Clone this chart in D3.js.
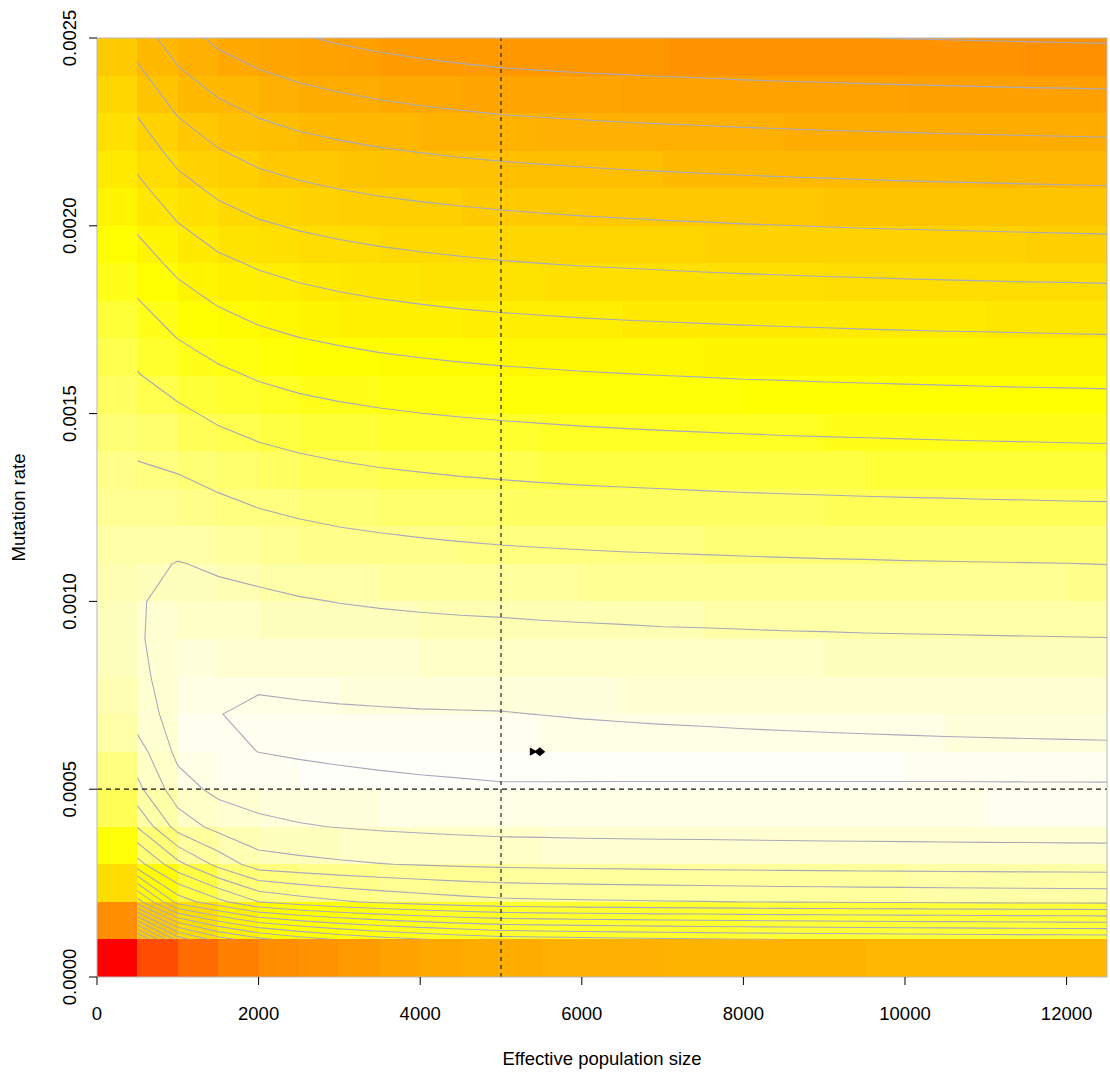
<!DOCTYPE html>
<html>
<head>
<meta charset="utf-8">
<script src="https://cdn.jsdelivr.net/npm/d3@7"></script>
<style>
  body { margin: 0; background: #fff; }
  text { font-family: "Liberation Sans", Arial, Helvetica, sans-serif; fill: #000; }
</style>
</head>
<body>
<svg id="chart" width="1110" height="1074"></svg>
<script>
// grid: upper edge of every cell (effective population size / mutation rate)
const popSizes = [500, 1000, 1500, 2000, 2500, 3000, 3500, 4000, 4500, 5000, 5500, 6000, 6500,
  7000, 7500, 8000, 8500, 9000, 9500, 10000, 10500, 11000, 11500, 12000, 12500];
const mutRates = [0.0001, 0.0002, 0.0003, 0.0004, 0.0005, 0.0006, 0.0007, 0.0008, 0.0009, 0.0010,
  0.0011, 0.0012, 0.0013, 0.0014, 0.0015, 0.0016, 0.0017, 0.0018, 0.0019, 0.0020,
  0.0021, 0.0022, 0.0023, 0.0024, 0.0025];

// misfit surface, one row per mutation rate (bottom row first), one value per population size
const surface = [
  [22.5, 17.6, 15.5, 14.3, 13.5, 12.9, 12.44, 12.07, 11.76, 11.5, 11.4, 11.31, 11.23, 11.16, 11.1, 11.04, 10.99, 10.95, 10.9, 10.86, 10.83, 10.79, 10.76, 10.73, 10.7],
  [13.5, 9.6, 8.3, 7.0, 6.5, 6.13, 5.84, 5.61, 5.41, 5.25, 5.19, 5.14, 5.1, 5.06, 5.03, 4.99, 4.96, 4.94, 4.91, 4.89, 4.87, 4.85, 4.83, 4.82, 4.8],
  [8.4, 6.3, 4.7, 3.48, 3.29, 3.14, 3.03, 2.94, 2.86, 2.8, 2.76, 2.73, 2.71, 2.68, 2.66, 2.64, 2.62, 2.61, 2.59, 2.58, 2.56, 2.55, 2.54, 2.53, 2.52],
  [5.95, 3.58, 2.68, 2.22, 2.07, 1.97, 1.88, 1.81, 1.76, 1.71, 1.7, 1.68, 1.67, 1.66, 1.66, 1.65, 1.64, 1.63, 1.63, 1.62, 1.62, 1.61, 1.61, 1.6, 1.6],
  [4.26, 2.42, 1.75, 1.6, 1.46, 1.35, 1.27, 1.2, 1.15, 1.1, 1.092, 1.086, 1.08, 1.075, 1.07, 1.065, 1.06, 1.056, 1.052, 1.048, 1.044, 1.04, 1.036, 1.033, 1.03],
  [3.44, 1.75, 1.2, 0.99, 0.88, 0.8, 0.73, 0.68, 0.64, 0.6, 0.63, 0.66, 0.69, 0.71, 0.73, 0.75, 0.77, 0.785, 0.8, 0.815, 0.83, 0.84, 0.85, 0.86, 0.87],
  [2.48, 1.6, 1.02, 0.85, 0.88, 0.91, 0.93, 0.95, 0.96, 0.97, 1.01, 1.05, 1.08, 1.11, 1.13, 1.16, 1.18, 1.2, 1.22, 1.235, 1.25, 1.265, 1.28, 1.29, 1.3],
  [2.25, 1.5, 1.2, 1.14, 1.2, 1.24, 1.28, 1.31, 1.33, 1.35, 1.39, 1.42, 1.45, 1.48, 1.5, 1.52, 1.54, 1.56, 1.57, 1.59, 1.6, 1.62, 1.63, 1.64, 1.65],
  [2.11, 1.52, 1.45, 1.49, 1.56, 1.61, 1.65, 1.68, 1.71, 1.73, 1.76, 1.79, 1.81, 1.84, 1.85, 1.87, 1.89, 1.9, 1.92, 1.93, 1.94, 1.95, 1.96, 1.97, 1.98],
  [2.12, 1.6, 1.8, 1.84, 1.94, 2.02, 2.08, 2.13, 2.17, 2.2, 2.24, 2.27, 2.3, 2.33, 2.35, 2.37, 2.39, 2.41, 2.42, 2.44, 2.45, 2.47, 2.48, 2.49, 2.5],
  [2.18, 1.97, 2.1, 2.25, 2.39, 2.49, 2.57, 2.63, 2.68, 2.73, 2.76, 2.79, 2.82, 2.84, 2.86, 2.88, 2.9, 2.92, 2.93, 2.95, 2.96, 2.97, 2.98, 2.99, 3.01],
  [2.5, 2.39, 2.57, 2.74, 2.89, 3.01, 3.09, 3.16, 3.22, 3.27, 3.31, 3.35, 3.38, 3.41, 3.43, 3.46, 3.48, 3.5, 3.52, 3.53, 3.55, 3.56, 3.58, 3.59, 3.6],
  [2.8, 2.81, 3.05, 3.28, 3.44, 3.56, 3.66, 3.73, 3.8, 3.85, 3.9, 3.94, 3.97, 4.0, 4.03, 4.06, 4.08, 4.1, 4.12, 4.14, 4.15, 4.17, 4.18, 4.2, 4.21],
  [3.07, 3.29, 3.61, 3.85, 4.03, 4.16, 4.26, 4.34, 4.41, 4.47, 4.52, 4.56, 4.6, 4.63, 4.66, 4.69, 4.72, 4.74, 4.76, 4.78, 4.8, 4.82, 4.83, 4.85, 4.86],
  [3.5, 3.82, 4.18, 4.46, 4.65, 4.79, 4.9, 4.99, 5.06, 5.12, 5.17, 5.22, 5.26, 5.3, 5.33, 5.36, 5.39, 5.41, 5.43, 5.45, 5.47, 5.49, 5.51, 5.52, 5.54],
  [3.94, 4.4, 4.79, 5.09, 5.3, 5.45, 5.57, 5.66, 5.74, 5.81, 5.86, 5.91, 5.95, 5.99, 6.02, 6.06, 6.08, 6.11, 6.13, 6.15, 6.17, 6.19, 6.21, 6.22, 6.24],
  [4.44, 5.01, 5.44, 5.76, 5.98, 6.13, 6.26, 6.36, 6.44, 6.51, 6.56, 6.61, 6.65, 6.68, 6.71, 6.74, 6.77, 6.79, 6.82, 6.84, 6.86, 6.87, 6.89, 6.91, 6.92],
  [4.96, 5.62, 6.1, 6.44, 6.66, 6.83, 6.96, 7.06, 7.15, 7.22, 7.27, 7.32, 7.36, 7.4, 7.43, 7.47, 7.49, 7.52, 7.54, 7.56, 7.58, 7.6, 7.62, 7.63, 7.65],
  [5.54, 6.26, 6.79, 7.12, 7.36, 7.53, 7.66, 7.77, 7.86, 7.94, 8.0, 8.05, 8.09, 8.13, 8.17, 8.2, 8.23, 8.26, 8.28, 8.31, 8.33, 8.35, 8.37, 8.38, 8.4],
  [6.14, 6.94, 7.5, 7.87, 8.1, 8.27, 8.41, 8.51, 8.6, 8.68, 8.74, 8.8, 8.84, 8.89, 8.92, 8.96, 8.99, 9.02, 9.05, 9.07, 9.09, 9.11, 9.13, 9.15, 9.17],
  [6.76, 7.65, 8.23, 8.6, 8.84, 9.02, 9.16, 9.27, 9.36, 9.44, 9.5, 9.56, 9.61, 9.65, 9.69, 9.73, 9.76, 9.79, 9.82, 9.85, 9.87, 9.89, 9.91, 9.93, 9.95],
  [7.41, 8.36, 8.95, 9.35, 9.6, 9.78, 9.93, 10.04, 10.14, 10.22, 10.28, 10.34, 10.39, 10.43, 10.47, 10.51, 10.54, 10.57, 10.59, 10.62, 10.64, 10.66, 10.68, 10.7, 10.72],
  [8.07, 9.07, 9.69, 10.1, 10.37, 10.56, 10.72, 10.84, 10.94, 11.03, 11.09, 11.14, 11.19, 11.23, 11.26, 11.3, 11.33, 11.36, 11.38, 11.4, 11.43, 11.45, 11.47, 11.48, 11.5],
  [8.75, 9.81, 10.46, 10.87, 11.15, 11.35, 11.51, 11.63, 11.74, 11.83, 11.89, 11.94, 11.98, 12.02, 12.05, 12.09, 12.12, 12.14, 12.17, 12.19, 12.21, 12.23, 12.25, 12.26, 12.28],
  [9.47, 10.55, 11.23, 11.64, 11.92, 12.13, 12.3, 12.43, 12.54, 12.63, 12.69, 12.75, 12.79, 12.84, 12.87, 12.91, 12.94, 12.97, 12.99, 13.02, 13.04, 13.06, 13.08, 13.1, 13.12]
];

const contourLevels = [1, 2, 3, 4, 5, 6, 7, 8, 9, 10, 11, 12, 13, 14, 15, 16, 17, 18, 19, 20, 21, 22];
const xTicks = [0, 2000, 4000, 6000, 8000, 10000, 12000];
const yTicks = [0, 0.0005, 0.0010, 0.0015, 0.0020, 0.0025];
const refPopSize = 5000;
const refMutRate = 0.0005;
const estimate = [5480, 0.0006];

const svg = d3.select('#chart');
const plot = {left: 97, right: 1107, top: 38, bottom: 977};

const x = d3.scaleLinear().domain([0, d3.max(popSizes)]).range([plot.left, plot.right]);
const y = d3.scaleLinear().domain([0, d3.max(mutRates)]).range([plot.bottom, plot.top]);

// R style heat.colors(n)
function hsv(h, s, v) {
  var i = Math.floor(h * 6), f = h * 6 - i;
  var p = v * (1 - s), q = v * (1 - f * s), t = v * (1 - (1 - f) * s);
  var r, g, b;
  switch (i % 6) {
    case 0: r = v; g = t; b = p; break;
    case 1: r = q; g = v; b = p; break;
    case 2: r = p; g = v; b = t; break;
    case 3: r = p; g = q; b = v; break;
    case 4: r = t; g = p; b = v; break;
    default: r = v; g = p; b = q;
  }
  return d3.rgb(r * 255, g * 255, b * 255).formatHex();
}
function heatColors(n) {
  var j = Math.floor(n / 4), i = n - j, out = [];
  for (var k = 0; k < i; k++) out.push(hsv(k / (i - 1) / 6, 1, 1));
  var s0 = 1 - 1 / (2 * j), s1 = 1 / (2 * j);
  for (var k = 0; k < j; k++) out.push(hsv(1 / 6, s0 + (s1 - s0) * k / (j - 1), 1));
  return out;
}
const palette = heatColors(100);
const allValues = surface.flat();
const zMin = d3.min(allValues), zMax = d3.max(allValues);
function cellColor(z) {
  var idx = Math.floor((zMax - z) / (zMax - zMin) * palette.length);
  return palette[Math.max(0, Math.min(palette.length - 1, idx))];
}

// image cells
const cells = [];
surface.forEach(function(row, i) {
  row.forEach(function(z, j) {
    cells.push({
      x0: j === 0 ? 0 : popSizes[j - 1], x1: popSizes[j],
      y0: i === 0 ? 0 : mutRates[i - 1], y1: mutRates[i], z: z
    });
  });
});
svg.append('g')
  .attr('shape-rendering', 'crispEdges')
  .selectAll('rect')
  .data(cells)
  .enter().append('rect')
  .attr('x', d => x(d.x0))
  .attr('y', d => y(d.y1))
  .attr('width', d => x(d.x1) - x(d.x0))
  .attr('height', d => y(d.y0) - y(d.y1))
  .attr('fill', d => cellColor(d.z));

// contour lines, computed on the grid points
const nx = popSizes.length, ny = mutRates.length;
const contours = d3.contours().size([nx, ny]).thresholds(contourLevels)(allValues);
const gx = d3.scaleLinear().domain([0.5, nx - 0.5]).range([popSizes[0], popSizes[nx - 1]]);
const gy = d3.scaleLinear().domain([0.5, ny - 0.5]).range([mutRates[0], mutRates[ny - 1]]);
const toPlot = d3.geoTransform({
  point: function(px, py) { this.stream.point(x(gx(px)), y(gy(py))); }
});
const path = d3.geoPath(toPlot);

svg.append('clipPath').attr('id', 'gridclip')
  .append('rect')
  .attr('x', x(popSizes[0]))
  .attr('y', y(mutRates[ny - 1]))
  .attr('width', x(popSizes[nx - 1]) - x(popSizes[0]))
  .attr('height', y(mutRates[0]) - y(mutRates[ny - 1]));

svg.append('g')
  .attr('clip-path', 'url(#gridclip)')
  .selectAll('path')
  .data(contours)
  .enter().append('path')
  .attr('d', path)
  .attr('fill', 'none')
  .attr('stroke', '#a9a9bb')
  .attr('stroke-width', 1.1);

// reference lines
svg.append('line')
  .attr('x1', x(refPopSize)).attr('x2', x(refPopSize))
  .attr('y1', y(0)).attr('y2', y(d3.max(mutRates)))
  .attr('stroke', '#222').attr('stroke-width', 1.2).attr('stroke-dasharray', '4,4');
svg.append('line')
  .attr('x1', x(0)).attr('x2', x(d3.max(popSizes)))
  .attr('y1', y(refMutRate)).attr('y2', y(refMutRate))
  .attr('stroke', '#111').attr('stroke-width', 1.2).attr('stroke-dasharray', '5,4');

// estimate marker
var ex = x(estimate[0]), ey = y(estimate[1]);
svg.append('path')
  .attr('d', 'M' + (ex - 9.5) + ',' + (ey - 3.5) + 'L' + (ex - 3.5) + ',' + ey + 'L' + (ex - 9.5) + ',' + (ey + 3.5) + 'Z')
  .attr('fill', '#000').attr('stroke', '#000').attr('stroke-width', 1);
svg.append('path')
  .attr('d', 'M' + (ex - 5.5) + ',' + ey + 'L' + ex + ',' + (ey - 4.5) + 'L' + (ex + 5.5) + ',' + ey + 'L' + ex + ',' + (ey + 4.5) + 'Z')
  .attr('fill', '#000');

// frame
svg.append('rect')
  .attr('x', plot.left).attr('y', plot.top)
  .attr('width', plot.right - plot.left).attr('height', plot.bottom - plot.top)
  .attr('fill', 'none').attr('stroke', '#b8b8b8').attr('stroke-width', 1);

// x axis
const xg = svg.append('g');
xg.selectAll('line').data(xTicks).enter().append('line')
  .attr('x1', d => x(d)).attr('x2', d => x(d))
  .attr('y1', plot.bottom).attr('y2', plot.bottom + 8)
  .attr('stroke', '#000');
xg.selectAll('text').data(xTicks).enter().append('text')
  .attr('x', d => x(d)).attr('y', 1020)
  .attr('text-anchor', 'middle')
  .style('font-size', '18.5px')
  .text(d => d3.format('d')(d));

// y axis
const yg = svg.append('g');
yg.selectAll('line').data(yTicks).enter().append('line')
  .attr('x1', plot.left - 8).attr('x2', plot.left)
  .attr('y1', d => y(d)).attr('y2', d => y(d))
  .attr('stroke', '#000');
yg.selectAll('text').data(yTicks).enter().append('text')
  .attr('transform', d => 'translate(76,' + y(d) + ') rotate(-90)')
  .attr('text-anchor', 'middle')
  .style('font-size', '18.5px')
  .text(d => d.toFixed(4));

// axis titles
svg.append('text')
  .attr('x', (plot.left + plot.right) / 2).attr('y', 1065)
  .attr('text-anchor', 'middle')
  .style('font-size', '18.5px')
  .text('Effective population size');
svg.append('text')
  .attr('transform', 'translate(25,' + ((plot.top + plot.bottom) / 2) + ') rotate(-90)')
  .attr('text-anchor', 'middle')
  .style('font-size', '18.5px')
  .text('Mutation rate');
</script>
</body>
</html>
